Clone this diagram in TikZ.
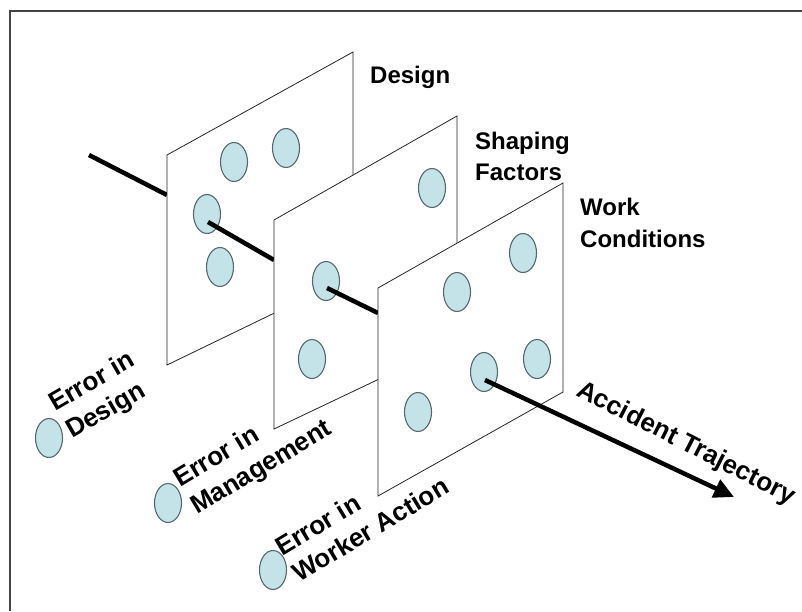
\documentclass[tikz,border=0pt]{standalone}
\usepackage{fontspec}
\setmainfont{Liberation Sans}
\usetikzlibrary{shapes.geometric,arrows.meta}
\definecolor{holefill}{HTML}{C4E3E9}
\definecolor{holeline}{HTML}{56686B}
\definecolor{framecol}{HTML}{444444}
\begin{document}
\begin{tikzpicture}[x=1pt,y=-1pt,
  hole/.style={ellipse, draw=holeline, fill=holefill, line width=1.1pt,
    minimum width=27pt, minimum height=39pt, inner sep=0pt},
  panel/.style={draw=black!85, fill=white, line width=0.8pt},
  traj/.style={line width=4.5pt, black},
  title/.style={font=\bfseries\fontsize{24}{28}\selectfont, anchor=base west, inner sep=0pt},
  slant/.style={font=\bfseries\fontsize{26}{30}\selectfont, anchor=base west, inner sep=0pt},
  framestyle/.style={draw=framecol, line width=2pt}]
\useasboundingbox (0,0) rectangle (802,611);
\fill[white] (0,0) rectangle (802,611);
\draw[framestyle] (10,611) -- (10,11) -- (802,11);

% trajectory anchor points
\coordinate (t0) at (89,155);
\coordinate (t1) at (167,195);
\coordinate (s1) at (208,222);
\coordinate (t2) at (274,260);
\coordinate (s2) at (327,288);
\coordinate (t3) at (378,313);
\coordinate (s3) at (485,380);
\coordinate (tip) at (734,497);

\draw[traj] (t0) -- (t1);

% panel 1: Design
\path[panel] (167,155) -- (353,52) -- (353,275) -- (167,365) -- cycle;
\node[hole] (h11) at (234,162) {};
\node[hole] (h12) at (286,148) {};
\node[hole] (h13) at (207,214) {};
\node[hole] (h14) at (220,267) {};
\draw[traj] (s1) -- (t2);

% panel 2: Shaping Factors
\path[panel] (274,220) -- (457,116) -- (457,342) -- (274,429) -- cycle;
\node[hole] (h21) at (432,188) {};
\node[hole] (h22) at (326,281) {};
\node[hole] (h23) at (312,359) {};
\draw[traj] (s2) -- (t3);

% panel 3: Work Conditions
\path[panel] (378,288) -- (563,183) -- (563,392) -- (378,496) -- cycle;
\node[hole] (h31) at (457,292) {};
\node[hole] (h32) at (523,253) {};
\node[hole] (h33) at (484,372) {};
\node[hole] (h34) at (537,359) {};
\node[hole] (h35) at (418,412) {};
\draw[traj, -{Triangle[length=20pt,width=19pt]}] (s3) -- (tip);

% titles
\node[title] (design) at (370,83) {Design};
\node[title] (shaping) at (475,149) {Shaping};
\node[title] (factors) at (475,180) {Factors};
\node[title] (work) at (580,215) {Work};
\node[title] (cond) at (580,247) {Conditions};

% legend
\node[hole] (lh1) at (49,438) {};
\node[slant, rotate=30] (ed1) at (55,412) {Error in};
\node[slant, rotate=30] (ed2) at (72,439) {Design};
\node[hole] (lh2) at (168,503) {};
\node[slant, rotate=31] (em1) at (180,488) {Error in};
\node[slant, rotate=31] (em2) at (197,515) {Management};
\node[hole] (lh3) at (273,570) {};
\node[slant, rotate=31] (ew1) at (282,557) {Error in};
\node[slant, rotate=31] (ew2) at (299,583) {Worker Action};

\node[slant, rotate=-27] (acc) at (575,395) {Accident Trajectory};
\end{tikzpicture}
\end{document}
